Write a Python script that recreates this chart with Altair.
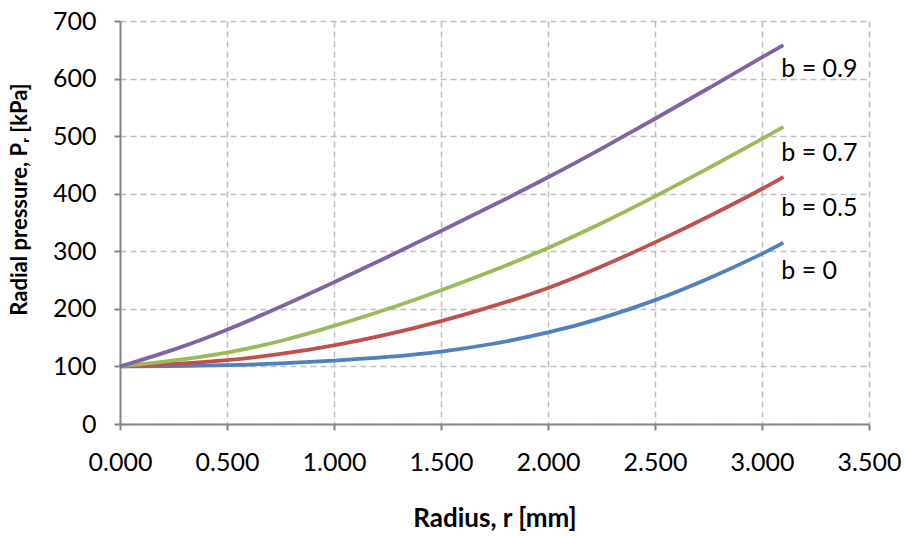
import altair as alt
import pandas as pd

r_vals = [0.0, 0.25, 0.5, 0.75, 1.0, 1.25, 1.5, 1.75, 2.0, 2.25, 2.5, 2.75, 3.0, 3.1]
p_b0 = [100, 100.5, 102, 105, 110, 116, 125, 139, 158, 183, 214, 252, 295, 315]
p_b05 = [100, 104, 110, 121, 136, 155, 178, 205, 235, 273, 315, 360, 408, 429]
p_b07 = [100, 110, 123, 143, 170, 199, 232, 267, 305, 348, 395, 444, 495, 516]
p_b09 = [100, 128, 163, 203, 246, 290, 335, 381, 428, 478, 530, 583, 637, 658]

series_names = ["b = 0", "b = 0.5", "b = 0.7", "b = 0.9"]
series_colors = ["#4F81BD", "#C0504D", "#9BBB59", "#8064A2"]
label_x = [3.09, 3.09, 3.09, 3.09]
label_y = [265, 376, 471, 617]

rows = []
for name, vals in zip(series_names, [p_b0, p_b05, p_b07, p_b09]):
    for r, p in zip(r_vals, vals):
        rows.append({"r": r, "p": p, "series": name})
df = pd.DataFrame(rows)
lab = pd.DataFrame({"x": label_x, "y": label_y, "text": series_names})

FONT = "Lato"

xscale = alt.Scale(domain=[0, 3.5], nice=False)
yscale = alt.Scale(domain=[0, 700], nice=False)

lines = alt.Chart(df).mark_line(strokeWidth=3.8, interpolate="basis").encode(
    x=alt.X("r:Q", scale=xscale, axis=alt.Axis(
        values=[0, 0.5, 1.0, 1.5, 2.0, 2.5, 3.0, 3.5], format=".3f",
        title="Radius, r [mm]", titleY=94, titleBaseline="middle", titleFontSize=26,
        labelPadding=20, tickSize=6, labelFlush=False)),
    y=alt.Y("p:Q", scale=yscale, axis=alt.Axis(
        values=[0, 100, 200, 300, 400, 500, 600, 700],
        title="Radial pressure, Pᵣ [kPa]", titleX=-101, titleY=178,
        titleBaseline="middle", titleFontSize=22, labelFlush=False,
        labelPadding=18, tickSize=6)),
    color=alt.Color("series:N", scale=alt.Scale(domain=series_names, range=series_colors), legend=None),
)

texts = alt.Chart(lab).mark_text(align="left", baseline="middle", fontSize=25, font=FONT, color="#000000").encode(
    x=alt.X("x:Q", scale=xscale),
    y=alt.Y("y:Q", scale=yscale),
    text="text:N",
)

chart = alt.layer(lines, texts).properties(
    width=749, height=403,
    autosize=alt.AutoSizeParams(type="none"),
    padding={"left": 120, "top": 21, "right": 35, "bottom": 112},
).configure_view(stroke=None).configure_axis(
    labelFont=FONT, titleFont=FONT, labelFontSize=25, titleFontSize=24,
    labelColor="#000000", titleColor="#000000", titleFontWeight="bold",
    domainColor="#868686", domainWidth=2, tickColor="#868686", tickWidth=2,
    gridColor="#BFBFBF", gridDash=[6, 4], gridWidth=1.5,
)

chart.save("out.html", embed_options={"renderer": "svg", "actions": False})
